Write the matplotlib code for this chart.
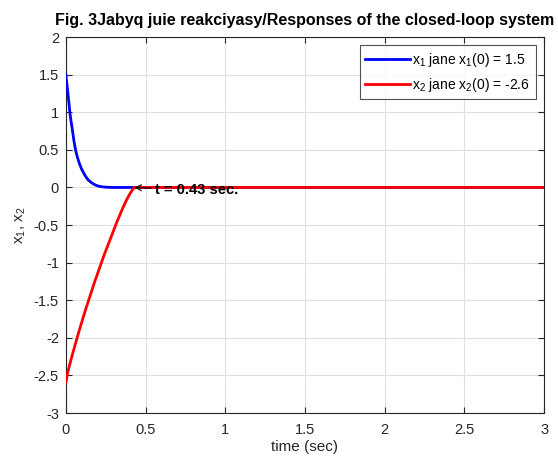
import matplotlib
matplotlib.use("Agg")
import matplotlib.pyplot as plt

plt.rcParams['font.family'] = ['Liberation Sans', 'DejaVu Sans']
plt.rcParams['mathtext.fontset'] = 'custom'
plt.rcParams['mathtext.rm'] = 'Liberation Sans'
plt.rcParams['mathtext.it'] = 'Liberation Sans:italic'

# Data
t1 = [0, 0.01, 0.02, 0.025, 0.03, 0.04, 0.05, 0.06, 0.07, 0.08, 0.09, 0.10,
      0.12, 0.14, 0.16, 0.18, 0.20, 0.23, 0.26, 0.30, 0.43, 3.0]
x1 = [1.5, 1.31, 1.11, 1.0, 0.92, 0.78, 0.63, 0.51, 0.42, 0.35, 0.29, 0.24,
      0.16, 0.10, 0.065, 0.038, 0.02, 0.008, 0.002, 0.0, 0.0, 0.0]
t2 = [0, 0.01, 0.02, 0.04, 0.06, 0.08, 0.10, 0.12, 0.14, 0.16, 0.18, 0.20,
      0.22, 0.24, 0.26, 0.28, 0.30, 0.32, 0.34, 0.36, 0.38, 0.40, 0.42, 0.43, 3.0]
x2 = [-2.6, -2.48, -2.39, -2.23, -2.08, -1.93, -1.79, -1.65, -1.52, -1.39, -1.26, -1.14,
      -1.02, -0.90, -0.79, -0.68, -0.57, -0.46, -0.36, -0.26, -0.17, -0.09, -0.025, 0.0, 0.0]
t_settle = 0.43
xticks = [0, 0.5, 1, 1.5, 2, 2.5, 3]
yticks = [-3, -2.5, -2, -1.5, -1, -0.5, 0, 0.5, 1, 1.5, 2]
labels = ['x$_1$ jane x$_1$(0) = 1.5', 'x$_2$ jane x$_2$(0) = -2.6']
title = 'Fig. 3Jabyq juie reakciyasy/Responses of the closed-loop system'

fig = plt.figure(figsize=(5.58, 4.59), dpi=100)
ax = fig.add_axes([0.118, 0.1002, 0.857, 0.819])

ax.plot(t1, x1, color='#0000ff', lw=2.0, label=labels[0], zorder=3)
ax.plot(t2, x2, color='#ff0000', lw=2.0, label=labels[1], zorder=3)

ax.set_xlim(0, 3)
ax.set_ylim(-3, 2)
ax.set_xticks(xticks)
ax.set_xticklabels([f'{v:g}' for v in xticks])
ax.set_yticks(yticks)
ax.set_yticklabels([f'{v:g}' for v in yticks])
ax.grid(True, color='#dfdfdf', lw=0.8)
ax.set_axisbelow(True)
ax.tick_params(direction='in', top=True, right=True, labelsize=10.5,
               colors='#262626', length=4)
ax.tick_params(axis='x', pad=7)
ax.tick_params(axis='y', pad=5)
for s in ax.spines.values():
    s.set_color('#262626')
    s.set_linewidth(0.8)

ax.set_xlabel('time (sec)', fontsize=11, color='#262626', labelpad=2)
ax.set_ylabel('x$_1$, x$_2$', fontsize=11, color='#262626', labelpad=4)
ax.set_title(title, fontsize=11.5, fontweight='bold', pad=9)

ax.annotate('t = 0.43 sec.', xy=(t_settle, 0), xytext=(0.56, -0.03),
            fontsize=10.5, fontweight='bold', va='center', ha='left',
            arrowprops=dict(arrowstyle='->', color='black', lw=0.8,
                            shrinkA=1, shrinkB=0), zorder=4)

leg = ax.legend(loc='upper right', fontsize=10, frameon=True, fancybox=False,
                edgecolor='#262626', handlelength=3.2, borderpad=0.4,
                labelspacing=0.5, handletextpad=0.2, borderaxespad=0.6)
leg.get_frame().set_linewidth(0.8)

fig.savefig('out.png', dpi=100)
